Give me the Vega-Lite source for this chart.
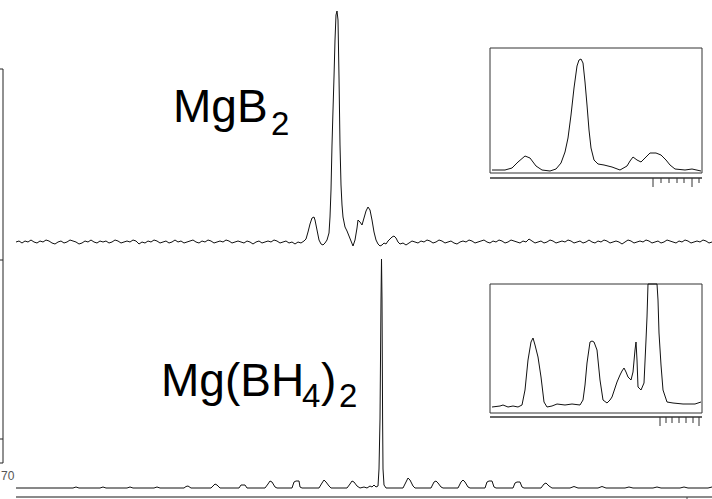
{
  "$schema": "https://vega.github.io/schema/vega-lite/v6.json",
  "width": 712,
  "height": 499,
  "autosize": "none",
  "padding": 0,
  "background": "white",
  "config": {"view": {"stroke": null}},
  "datasets": {
    "mgb2": [
      {"channel":16,"counts":257},{"channel":19,"counts":258},{"channel":22,"counts":256},{"channel":25,"counts":258},{"channel":28,"counts":257},{"channel":31,"counts":259},{"channel":34,"counts":257},{"channel":37,"counts":256},{"channel":40,"counts":258},{"channel":43,"counts":257},{"channel":46,"counts":259},{"channel":49,"counts":258},{"channel":52,"counts":256},{"channel":55,"counts":255},{"channel":58,"counts":257},{"channel":61,"counts":258},{"channel":64,"counts":256},{"channel":67,"counts":257},{"channel":70,"counts":259},{"channel":73,"counts":258},{"channel":76,"counts":257},{"channel":79,"counts":255},{"channel":82,"counts":256},{"channel":85,"counts":258},{"channel":88,"counts":257},{"channel":91,"counts":259},{"channel":94,"counts":257},{"channel":97,"counts":256},{"channel":100,"counts":258},{"channel":103,"counts":257},{"channel":106,"counts":258},{"channel":109,"counts":256},{"channel":112,"counts":257},{"channel":115,"counts":259},{"channel":118,"counts":258},{"channel":121,"counts":256},{"channel":124,"counts":257},{"channel":127,"counts":258},{"channel":130,"counts":257},{"channel":133,"counts":259},{"channel":136,"counts":258},{"channel":139,"counts":255},{"channel":142,"counts":257},{"channel":145,"counts":256},{"channel":148,"counts":258},{"channel":151,"counts":257},{"channel":154,"counts":259},{"channel":157,"counts":258},{"channel":160,"counts":256},{"channel":163,"counts":257},{"channel":166,"counts":258},{"channel":169,"counts":256},{"channel":172,"counts":257},{"channel":175,"counts":259},{"channel":178,"counts":257},{"channel":181,"counts":258},{"channel":184,"counts":256},{"channel":187,"counts":257},{"channel":190,"counts":258},{"channel":193,"counts":259},{"channel":196,"counts":257},{"channel":199,"counts":256},{"channel":202,"counts":258},{"channel":205,"counts":257},{"channel":208,"counts":259},{"channel":211,"counts":258},{"channel":214,"counts":256},{"channel":217,"counts":257},{"channel":220,"counts":258},{"channel":223,"counts":257},{"channel":226,"counts":259},{"channel":229,"counts":258},{"channel":232,"counts":256},{"channel":235,"counts":257},{"channel":238,"counts":258},{"channel":241,"counts":257},{"channel":244,"counts":256},{"channel":247,"counts":258},{"channel":250,"counts":257},{"channel":253,"counts":255},{"channel":256,"counts":257},{"channel":259,"counts":258},{"channel":262,"counts":256},{"channel":265,"counts":257},{"channel":268,"counts":258},{"channel":271,"counts":257},{"channel":274,"counts":259},{"channel":277,"counts":258},{"channel":280,"counts":256},{"channel":283,"counts":257},{"channel":286,"counts":258},{"channel":289,"counts":256},{"channel":292,"counts":257},{"channel":295,"counts":255},{"channel":298,"counts":257},{"channel":301,"counts":256},{"channel":304,"counts":258},
      {"channel":306,"counts":260},{"channel":308,"counts":267},{"channel":310,"counts":275},{"channel":312,"counts":281},{"channel":314,"counts":282},{"channel":315,"counts":279},{"channel":317,"counts":269},{"channel":319,"counts":259},{"channel":321,"counts":255},{"channel":323,"counts":254},{"channel":325,"counts":256},{"channel":327,"counts":259},{"channel":329,"counts":266},{"channel":330,"counts":282},{"channel":331,"counts":309},{"channel":332,"counts":354},{"channel":333,"counts":389},{"channel":334,"counts":422},{"channel":335,"counts":459},{"channel":336,"counts":484},{"channel":337,"counts":488},{"channel":338,"counts":479},{"channel":339,"counts":422},{"channel":340,"counts":354},{"channel":341,"counts":314},{"channel":342,"counts":294},{"channel":343,"counts":282},{"channel":345,"counts":272},{"channel":347,"counts":268},{"channel":349,"counts":263},{"channel":351,"counts":258},{"channel":353,"counts":253},{"channel":355,"counts":259},{"channel":357,"counts":271},{"channel":358,"counts":279},{"channel":360,"counts":277},{"channel":362,"counts":274},{"channel":364,"counts":281},{"channel":366,"counts":288},{"channel":368,"counts":292},{"channel":370,"counts":289},{"channel":372,"counts":279},{"channel":374,"counts":267},{"channel":376,"counts":259},{"channel":378,"counts":255},{"channel":380,"counts":253},{"channel":382,"counts":254},{"channel":384,"counts":256},{"channel":386,"counts":255},{"channel":388,"counts":258},{"channel":390,"counts":260},{"channel":392,"counts":262},{"channel":394,"counts":263},{"channel":396,"counts":261},{"channel":398,"counts":257},{"channel":400,"counts":255},{"channel":403,"counts":256},
      {"channel":406,"counts":254},{"channel":409,"counts":256},{"channel":412,"counts":258},{"channel":415,"counts":257},{"channel":418,"counts":256},{"channel":421,"counts":258},{"channel":424,"counts":257},{"channel":427,"counts":259},{"channel":430,"counts":258},{"channel":433,"counts":256},{"channel":436,"counts":257},{"channel":439,"counts":259},{"channel":442,"counts":258},{"channel":445,"counts":256},{"channel":448,"counts":257},{"channel":451,"counts":258},{"channel":454,"counts":256},{"channel":457,"counts":255},{"channel":460,"counts":257},{"channel":463,"counts":258},{"channel":466,"counts":257},{"channel":469,"counts":259},{"channel":472,"counts":258},{"channel":475,"counts":256},{"channel":478,"counts":257},{"channel":481,"counts":258},{"channel":484,"counts":259},{"channel":487,"counts":257},{"channel":490,"counts":256},{"channel":493,"counts":258},{"channel":496,"counts":257},{"channel":499,"counts":259},{"channel":502,"counts":258},{"channel":505,"counts":256},{"channel":508,"counts":257},{"channel":511,"counts":259},{"channel":514,"counts":258},{"channel":517,"counts":257},{"channel":520,"counts":256},{"channel":523,"counts":258},{"channel":526,"counts":257},{"channel":529,"counts":260},{"channel":532,"counts":258},{"channel":535,"counts":256},{"channel":538,"counts":257},{"channel":541,"counts":258},{"channel":544,"counts":256},{"channel":547,"counts":257},{"channel":550,"counts":259},{"channel":553,"counts":258},{"channel":556,"counts":256},{"channel":559,"counts":257},{"channel":562,"counts":258},{"channel":565,"counts":257},{"channel":568,"counts":259},{"channel":571,"counts":258},{"channel":574,"counts":256},{"channel":577,"counts":257},{"channel":580,"counts":258},{"channel":583,"counts":256},{"channel":586,"counts":257},{"channel":589,"counts":259},{"channel":592,"counts":257},{"channel":595,"counts":256},{"channel":598,"counts":258},{"channel":601,"counts":257},{"channel":604,"counts":259},{"channel":607,"counts":258},{"channel":610,"counts":256},{"channel":613,"counts":257},{"channel":616,"counts":258},{"channel":619,"counts":257},{"channel":622,"counts":255},{"channel":625,"counts":257},{"channel":628,"counts":259},{"channel":631,"counts":258},{"channel":634,"counts":256},{"channel":637,"counts":257},{"channel":640,"counts":258},{"channel":643,"counts":257},{"channel":646,"counts":259},{"channel":649,"counts":258},{"channel":652,"counts":256},{"channel":655,"counts":257},{"channel":658,"counts":258},{"channel":661,"counts":256},{"channel":664,"counts":257},{"channel":667,"counts":259},{"channel":670,"counts":258},{"channel":673,"counts":257},{"channel":676,"counts":256},{"channel":679,"counts":258},{"channel":682,"counts":257},{"channel":685,"counts":259},{"channel":688,"counts":258},{"channel":691,"counts":256},{"channel":694,"counts":257},{"channel":697,"counts":258},{"channel":700,"counts":257},{"channel":703,"counts":259},{"channel":706,"counts":258},{"channel":709,"counts":256},{"channel":712,"counts":257}
    ],
    "mgbh4": [
      {"channel":16,"counts":11},{"channel":73,"counts":11},{"channel":76,"counts":12},{"channel":79,"counts":11},{"channel":100,"counts":11},{"channel":103,"counts":12},{"channel":106,"counts":11},{"channel":127,"counts":11},{"channel":130,"counts":12},{"channel":133,"counts":11},{"channel":154,"counts":11},{"channel":157,"counts":12},{"channel":160,"counts":11},
      {"channel":184,"counts":11},{"channel":186,"counts":12.5},{"channel":188,"counts":13},{"channel":191,"counts":11},
      {"channel":211,"counts":11},{"channel":213,"counts":13},{"channel":215,"counts":15},{"channel":217,"counts":14},{"channel":220,"counts":11},
      {"channel":239,"counts":11},{"channel":241,"counts":14},{"channel":245,"counts":14},{"channel":247,"counts":11},
      {"channel":265,"counts":11},{"channel":268,"counts":15},{"channel":270,"counts":18},{"channel":272,"counts":17},{"channel":275,"counts":12},{"channel":277,"counts":11},
      {"channel":292,"counts":11},{"channel":294,"counts":17},{"channel":296,"counts":18},{"channel":299,"counts":18},{"channel":300,"counts":12},{"channel":302,"counts":11},
      {"channel":319,"counts":11},{"channel":322,"counts":16},{"channel":324,"counts":19},{"channel":326,"counts":17},{"channel":329,"counts":13},{"channel":331,"counts":11},
      {"channel":347,"counts":11},{"channel":350,"counts":15},{"channel":352,"counts":18},{"channel":354,"counts":17},{"channel":357,"counts":13},{"channel":360,"counts":11},
      {"channel":364,"counts":12},{"channel":367,"counts":11},{"channel":370,"counts":13},{"channel":372,"counts":12},{"channel":374,"counts":14},{"channel":376,"counts":12},
      {"channel":378,"counts":13},{"channel":379,"counts":30},{"channel":380,"counts":80},{"channel":381,"counts":200},{"channel":381.5,"counts":240},{"channel":382,"counts":200},{"channel":382.6,"counts":80},{"channel":383,"counts":30},{"channel":384,"counts":14},{"channel":386,"counts":11},{"channel":388,"counts":11},
      {"channel":403,"counts":11},{"channel":406,"counts":17},{"channel":408,"counts":21},{"channel":410,"counts":19},{"channel":413,"counts":13},{"channel":415,"counts":11},
      {"channel":431,"counts":11},{"channel":434,"counts":17},{"channel":436,"counts":18},{"channel":438,"counts":16},{"channel":441,"counts":12},{"channel":443,"counts":11},
      {"channel":458,"counts":11},{"channel":461,"counts":17},{"channel":463,"counts":19},{"channel":465,"counts":17},{"channel":468,"counts":12},{"channel":470,"counts":11},
      {"channel":485,"counts":11},{"channel":487,"counts":17},{"channel":489,"counts":18},{"channel":492,"counts":18},{"channel":494,"counts":12},{"channel":496,"counts":11},
      {"channel":513,"counts":11},{"channel":515,"counts":16},{"channel":517,"counts":17},{"channel":520,"counts":17},{"channel":522,"counts":12},{"channel":524,"counts":11},
      {"channel":541,"counts":11},{"channel":544,"counts":15},{"channel":546,"counts":16},{"channel":549,"counts":13},{"channel":552,"counts":11},
      {"channel":570,"counts":11},{"channel":574,"counts":12.5},{"channel":578,"counts":11},
      {"channel":598,"counts":11},{"channel":602,"counts":12.5},{"channel":606,"counts":11},
      {"channel":625,"counts":11},{"channel":629,"counts":12},{"channel":633,"counts":11},
      {"channel":653,"counts":11},{"channel":657,"counts":12},{"channel":661,"counts":11},
      {"channel":680,"counts":11},{"channel":684,"counts":12},{"channel":688,"counts":11},
      {"channel":708,"counts":11},{"channel":712,"counts":12}
    ],
    "mgb2Zoom": [
      {"channel":492,"counts":329},{"channel":505,"counts":329},{"channel":512,"counts":331},{"channel":518,"counts":337},{"channel":525,"counts":343},{"channel":530,"counts":341},{"channel":536,"counts":333},{"channel":542,"counts":329},{"channel":550,"counts":328},{"channel":556,"counts":330},{"channel":561,"counts":336},{"channel":565,"counts":347},{"channel":568,"counts":361},{"channel":571,"counts":384},{"channel":574,"counts":411},{"channel":577,"counts":433},{"channel":579,"counts":439},{"channel":581,"counts":440},{"channel":583,"counts":436},{"channel":585,"counts":417},{"channel":587,"counts":394},{"channel":589,"counts":369},{"channel":591,"counts":351},{"channel":594,"counts":339},{"channel":598,"counts":335},{"channel":604,"counts":334},{"channel":612,"counts":332},{"channel":620,"counts":329},{"channel":627,"counts":333},{"channel":630,"counts":338},{"channel":633,"counts":342},{"channel":637,"counts":339},{"channel":641,"counts":337},{"channel":645,"counts":341},{"channel":650,"counts":346},{"channel":656,"counts":346},{"channel":661,"counts":344},{"channel":666,"counts":339},{"channel":670,"counts":334},{"channel":675,"counts":330},{"channel":685,"counts":329},{"channel":692,"counts":330},{"channel":701,"counts":328}
    ],
    "mgbh4Zoom": [
      {"channel":492,"counts":92},{"channel":500,"counts":93},{"channel":503,"counts":94},{"channel":508,"counts":92},{"channel":513,"counts":93},{"channel":518,"counts":92},{"channel":522,"counts":94},{"channel":525,"counts":109},{"channel":528,"counts":139},{"channel":531,"counts":157},{"channel":533,"counts":161},{"channel":535,"counts":154},{"channel":538,"counts":142},{"channel":541,"counts":122},{"channel":544,"counts":97},{"channel":547,"counts":92},{"channel":552,"counts":93},{"channel":557,"counts":95},{"channel":565,"counts":94},{"channel":572,"counts":95},{"channel":580,"counts":94},{"channel":583,"counts":99},{"channel":585,"counts":114},{"channel":587,"counts":136},{"channel":590,"counts":157},{"channel":592,"counts":158},{"channel":594,"counts":157},{"channel":597,"counts":149},{"channel":600,"counts":119},{"channel":603,"counts":99},{"channel":607,"counts":96},{"channel":610,"counts":99},{"channel":612,"counts":102},{"channel":615,"counts":111},{"channel":617,"counts":117},{"channel":620,"counts":124},{"channel":622,"counts":128},{"channel":624,"counts":131},{"channel":626,"counts":127},{"channel":628,"counts":122},{"channel":631,"counts":119},{"channel":633,"counts":127},{"channel":635,"counts":149},{"channel":636,"counts":157},{"channel":637,"counts":139},{"channel":638,"counts":112},{"channel":641,"counts":109},{"channel":644,"counts":116},{"channel":646,"counts":159},{"channel":647,"counts":182},{"channel":648,"counts":215},{"channel":657,"counts":215},{"channel":658,"counts":199},{"channel":659,"counts":166},{"channel":661,"counts":134},{"channel":663,"counts":109},{"channel":667,"counts":97},{"channel":673,"counts":96},{"channel":683,"counts":95},{"channel":695,"counts":95},{"channel":701,"counts":97}
    ],
    "stackAxis": [{"channel":3,"counts":430,"counts2":36}],
    "stackTicks": [
      {"channel":0,"channel2":3,"counts":430},{"channel":0,"channel2":3,"counts":239},
      {"channel":0,"channel2":3,"counts":60},{"channel":0,"channel2":3,"counts":36}
    ],
    "stackLabel": [{"text":"70","channel":1,"counts":23}],
    "baseAxis": [{"channel":16,"channel2":712,"counts":2}],
    "baseTick": [{"channel":687,"counts":2,"counts2":0}],
    "zoomFrames": [
      {"channel":490,"channel2":702,"counts":451,"counts2":326},
      {"channel":490,"channel2":702,"counts":215,"counts2":86}
    ],
    "zoomAxes": [
      {"channel":490,"channel2":702,"counts":321},
      {"channel":490,"channel2":702,"counts":82}
    ],
    "zoomTicks": [
      {"channel":653,"counts":321,"counts2":312},{"channel":661,"counts":321,"counts2":316},{"channel":669,"counts":321,"counts2":316},{"channel":677,"counts":321,"counts2":316},{"channel":684,"counts":321,"counts2":316},{"channel":692,"counts":321,"counts2":312},{"channel":699,"counts":321,"counts2":316},
      {"channel":660,"counts":82,"counts2":73},{"channel":666,"counts":82,"counts2":76},{"channel":672,"counts":82,"counts2":76},{"channel":679,"counts":82,"counts2":76},{"channel":686,"counts":82,"counts2":76},{"channel":693,"counts":82,"counts2":76},{"channel":699,"counts":82,"counts2":73}
    ],
    "namesMain": [
      {"text":"MgB","channel":173,"counts":377},
      {"text":"Mg(BH","channel":161,"counts":103},
      {"text":")","channel":321,"counts":103}
    ],
    "namesSub": [
      {"text":"2","channel":271,"counts":364},
      {"text":"4","channel":302,"counts":92},
      {"text":"2","channel":339,"counts":92}
    ]
  },
  "encoding": {
    "x": {"field": "channel", "type": "quantitative", "axis": null, "scale": {"domain": [0, 712], "nice": false, "zero": false}},
    "y": {"field": "counts", "type": "quantitative", "axis": null, "scale": {"domain": [0, 499], "nice": false, "zero": false}}
  },
  "layer": [
    {
      "data": {"name": "stackAxis"},
      "mark": {"type": "rule", "color": "#222", "strokeWidth": 1},
      "encoding": {"y2": {"field": "counts2"}}
    },
    {
      "data": {"name": "stackTicks"},
      "mark": {"type": "rule", "color": "#222", "strokeWidth": 1},
      "encoding": {"x2": {"field": "channel2"}}
    },
    {
      "data": {"name": "stackLabel"},
      "mark": {"type": "text", "align": "left", "baseline": "middle", "font": "Liberation Sans", "fontSize": 12, "color": "#555"},
      "encoding": {"text": {"field": "text"}}
    },
    {
      "data": {"name": "baseAxis"},
      "mark": {"type": "rule", "color": "#8a8a8a", "strokeWidth": 2},
      "encoding": {"x2": {"field": "channel2"}}
    },
    {
      "data": {"name": "baseTick"},
      "mark": {"type": "rule", "color": "#444", "strokeWidth": 1},
      "encoding": {"y2": {"field": "counts2"}}
    },
    {
      "data": {"name": "mgb2"},
      "mark": {"type": "line", "color": "#111", "strokeWidth": 1},
      "encoding": {"order": {"field": "channel"}}
    },
    {
      "data": {"name": "mgbh4"},
      "mark": {"type": "line", "color": "#111", "strokeWidth": 1},
      "encoding": {"order": {"field": "channel"}}
    },
    {
      "data": {"name": "zoomFrames"},
      "mark": {"type": "rect", "fill": "white", "stroke": "#333", "strokeWidth": 1},
      "encoding": {"x2": {"field": "channel2"}, "y2": {"field": "counts2"}}
    },
    {
      "data": {"name": "zoomAxes"},
      "mark": {"type": "rule", "color": "#333", "strokeWidth": 1.5},
      "encoding": {"x2": {"field": "channel2"}}
    },
    {
      "data": {"name": "zoomTicks"},
      "mark": {"type": "rule", "color": "#333", "strokeWidth": 1},
      "encoding": {"y2": {"field": "counts2"}}
    },
    {
      "data": {"name": "mgb2Zoom"},
      "mark": {"type": "line", "color": "#111", "strokeWidth": 1},
      "encoding": {"order": {"field": "channel"}}
    },
    {
      "data": {"name": "mgbh4Zoom"},
      "mark": {"type": "line", "color": "#111", "strokeWidth": 1},
      "encoding": {"order": {"field": "channel"}}
    },
    {
      "data": {"name": "namesMain"},
      "mark": {"type": "text", "align": "left", "baseline": "alphabetic", "font": "Liberation Sans", "fontSize": 46, "color": "black"},
      "encoding": {"text": {"field": "text"}}
    },
    {
      "data": {"name": "namesSub"},
      "mark": {"type": "text", "align": "left", "baseline": "alphabetic", "font": "Liberation Sans", "fontSize": 33, "color": "black"},
      "encoding": {"text": {"field": "text"}}
    }
  ]
}
